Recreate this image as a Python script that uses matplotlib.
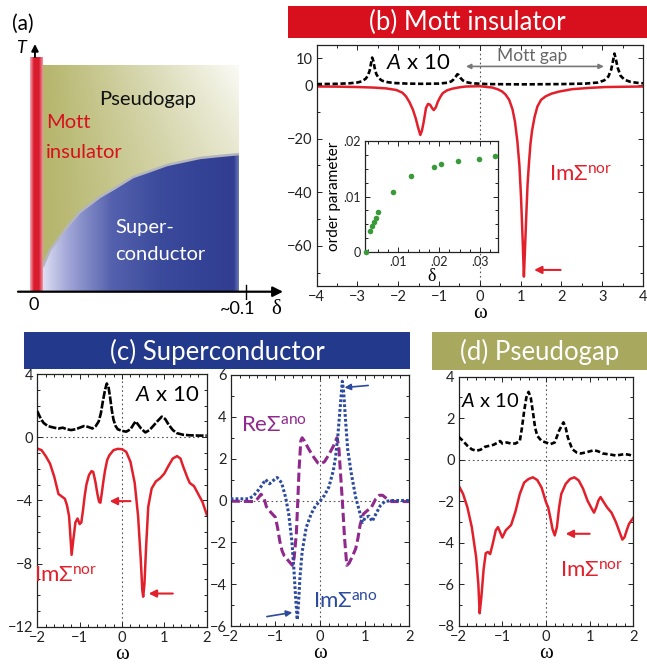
import numpy as np
import matplotlib
matplotlib.use('Agg')
import matplotlib.pyplot as plt
from matplotlib.patches import Rectangle, Polygon
from matplotlib.ticker import MultipleLocator, FixedLocator

plt.rcParams['font.family'] = ['Lato', 'DejaVu Sans']
plt.rcParams['mathtext.fontset'] = 'custom'
plt.rcParams['mathtext.rm'] = 'Lato'
plt.rcParams['mathtext.it'] = 'Lato:italic'
plt.rcParams['mathtext.bf'] = 'Lato:bold'

# ---------------- data ----------------
# (a) schematic phase boundary (delta, T in units of top of diagram)
pd_delta = [0.0032, 0.0067, 0.0148, 0.021, 0.0305, 0.0377, 0.0463, 0.0544, 0.0625, 0.0782, 0.0877, 0.0968]
pd_T = [0.109, 0.184, 0.285, 0.352, 0.418, 0.457, 0.506, 0.532, 0.559, 0.590, 0.599, 0.607]

# (b) Mott insulator
b_A_omega = [-4.0, -3.5, -3.2, -3.0, -2.9, -2.8, -2.75, -2.7, -2.67, -2.64, -2.61, -2.58, -2.54, -2.48, -2.4,
             -2.3, -2.1, -1.8, -1.4, -1.0, -0.8, -0.7, -0.64, -0.58, -0.55, -0.52, -0.48, -0.42, -0.35, -0.2,
             0.2, 1.0, 2.0, 2.6, 2.9, 3.05, 3.15, 3.22, 3.27, 3.30, 3.33, 3.38, 3.45, 3.55, 3.7, 3.9, 4.0]
b_A = [0.4, 0.5, 0.7, 1.0, 1.4, 2.4, 3.4, 5.5, 8.0, 10.3, 9.0, 6.5, 4.2, 2.6, 1.7,
       1.2, 0.8, 0.6, 0.5, 0.6, 0.9, 1.4, 2.2, 3.4, 4.1, 3.8, 2.8, 1.8, 1.2, 0.7,
       0.4, 0.3, 0.4, 0.6, 1.0, 1.8, 3.2, 5.8, 9.5, 11.8, 10.0, 6.5, 3.5, 2.0, 1.2, 0.8, 0.7]
b_Im_omega = [-4.0, -3.5, -3.0, -2.6, -2.3, -2.05, -1.9, -1.81, -1.72, -1.64, -1.57, -1.52, -1.46, -1.42, -1.38,
              -1.32, -1.27, -1.22, -1.17, -1.13, -1.08, -1.03, -0.97, -0.91, -0.8, -0.67, -0.5, -0.34, 0.0, 0.31,
              0.45, 0.55, 0.63, 0.72, 0.8, 0.86, 0.92, 0.97, 1.01, 1.05, 1.08, 1.11, 1.14, 1.17, 1.2,
              1.24, 1.28, 1.34, 1.41, 1.5, 1.61, 1.75, 1.94, 2.26, 2.7, 3.08, 3.5, 4.0]
b_Im = [-0.5, -0.55, -0.7, -0.9, -1.2, -1.8, -2.8, -4.2, -6.5, -9.2, -12.5, -15.5, -18.6, -17.0, -14.0,
        -8.5, -7.0, -7.3, -8.6, -9.3, -8.3, -6.2, -4.4, -3.0, -1.9, -1.3, -0.8, -0.5, -0.4, -0.9,
        -1.6, -2.4, -3.5, -5.5, -9.0, -13.5, -21, -30, -42, -58, -71.5, -60, -48, -37, -30,
        -22, -17, -12, -8, -5.5, -4.2, -3.2, -2.4, -1.5, -1.0, -0.7, -0.6, -0.5]

# (b) inset: order parameter vs doping
inset_delta = [0.0021, 0.0031, 0.0036, 0.0041, 0.0046, 0.0051, 0.0088, 0.0131, 0.0187, 0.0205, 0.0247, 0.0298, 0.0337]
inset_order = [0.0, 0.0038, 0.0047, 0.0054, 0.0062, 0.0072, 0.0108, 0.0137, 0.0153, 0.0158, 0.0164, 0.0168, 0.0173]

# (c) Superconductor, left
c_A_omega = [-2.0, -1.95, -1.9, -1.85, -1.75, -1.6, -1.5, -1.4, -1.3, -1.2, -1.1, -1.0, -0.9, -0.8, -0.7,
             -0.62, -0.55, -0.5, -0.45, -0.4, -0.36, -0.32, -0.28, -0.24, -0.2, -0.15, -0.1, 0.0, 0.1, 0.2,
             0.27, 0.32, 0.38, 0.45, 0.55, 0.65, 0.75, 0.85, 0.94, 1.02, 1.1, 1.2, 1.3, 1.45, 1.6, 1.8, 2.0]
c_A = [1.65, 1.35, 1.1, 0.9, 0.7, 0.6, 0.55, 0.6, 0.5, 0.45, 0.5, 0.6, 0.7, 0.65, 0.55,
       0.7, 1.0, 1.5, 2.3, 3.0, 3.4, 3.2, 2.5, 1.7, 1.1, 0.7, 0.5, 0.4, 0.35, 0.5,
       0.8, 1.0, 0.8, 0.55, 0.3, 0.45, 0.75, 1.05, 1.3, 1.15, 0.8, 0.45, 0.25, 0.15, 0.12, 0.1, 0.1]
c_Im_omega = [-2.0, -1.9, -1.8, -1.7, -1.6, -1.5, -1.45, -1.4, -1.35, -1.3, -1.25, -1.22, -1.19, -1.15, -1.1,
              -1.05, -1.0, -0.96, -0.92, -0.88, -0.84, -0.78, -0.72, -0.68, -0.63, -0.58, -0.54, -0.51, -0.48, -0.44,
              -0.4, -0.35, -0.3, -0.2, -0.1, 0.0, 0.1, 0.2, 0.3, 0.38, 0.44, 0.48, 0.5, 0.53, 0.57,
              0.62, 0.7, 0.8, 0.9, 1.0, 1.1, 1.2, 1.3, 1.38, 1.45, 1.55, 1.6, 1.7, 1.8, 1.9, 2.0]
c_Im = [-0.72, -0.82, -1.2, -1.67, -2.5, -3.6, -3.7, -3.8, -3.9, -4.3, -5.0, -6.2, -7.45, -6.5, -5.4,
        -5.15, -5.5, -5.4, -4.6, -3.7, -3.0, -2.4, -2.15, -2.2, -2.8, -3.6, -4.1, -4.15, -3.6, -2.8,
        -2.1, -1.45, -1.15, -0.82, -0.74, -0.76, -0.93, -1.56, -2.9, -5.0, -7.6, -9.7, -10.1, -9.3, -6.9,
        -4.4, -3.25, -2.8, -2.6, -2.3, -1.8, -1.35, -1.2, -1.35, -1.9, -2.6, -2.9, -3.1, -3.6, -4.1, -4.9]

# (c) Superconductor, right: anomalous self-energy
c_ImAno_omega = [-2.0, -1.6, -1.5, -1.38, -1.3, -1.22, -1.13, -1.05, -0.96, -0.86, -0.77, -0.7, -0.63, -0.59, -0.55,
                 -0.51, -0.48, -0.45, -0.4, -0.31, -0.2, -0.1, 0.0, 0.1, 0.2, 0.3, 0.35, 0.4, 0.45, 0.5,
                 0.53, 0.57, 0.62, 0.7, 0.8, 0.9, 0.95, 1.02, 1.1, 1.17, 1.25, 1.35, 1.45, 1.6, 2.0]
c_ImAno = [0.08, 0.08, 0.2, 0.5, 0.73, 1.0, 0.8, 0.95, 1.1, 0.85, 0.15, -0.65, -1.95, -3.1, -4.5,
           -5.7, -4.9, -3.7, -2.45, -1.3, -0.65, -0.25, -0.03, 0.25, 0.65, 1.45, 2.1, 3.1, 4.4, 5.7,
           5.2, 3.9, 2.45, 1.3, 0.15, -0.65, -1.05, -0.8, -0.75, -1.0, -0.65, -0.25, -0.05, 0.0, 0.0]
c_ReAno_omega = [-2.0, -1.5, -1.4, -1.32, -1.25, -1.2, -1.1, -1.0, -0.95, -0.9, -0.85, -0.8, -0.7, -0.62, -0.58,
                 -0.53, -0.5, -0.47, -0.43, -0.4, -0.35, -0.25, -0.15, -0.05, 0.0, 0.1, 0.2, 0.3, 0.38, 0.42,
                 0.45, 0.5, 0.55, 0.6, 0.65, 0.72, 0.8, 0.85, 0.9, 0.97, 1.05, 1.15, 1.25, 1.33, 1.4,
                 1.5, 1.6, 2.0]
c_ReAno = [-0.03, -0.05, 0.08, 0.3, 0.08, -0.3, -0.57, -0.8, -1.3, -1.95, -2.4, -2.65, -2.9, -3.1, -2.75,
           -1.6, -0.15, 1.45, 2.85, 3.0, 2.85, 2.45, 2.1, 1.8, 1.75, 1.85, 2.2, 2.6, 3.0, 2.6,
           1.6, 0.0, -1.8, -3.1, -3.0, -2.7, -2.3, -1.8, -1.15, -0.65, -0.5, -0.33, 0.08, 0.25, 0.25,
           0.08, -0.05, -0.05]

# (d) Pseudogap
d_A_omega = [-2.0, -1.9, -1.8, -1.7, -1.6, -1.5, -1.4, -1.3, -1.2, -1.1, -1.05, -1.0, -0.9, -0.8, -0.7,
             -0.6, -0.55, -0.5, -0.45, -0.4, -0.35, -0.3, -0.25, -0.2, -0.1, 0.0, 0.1, 0.2, 0.3, 0.35,
             0.4, 0.45, 0.5, 0.6, 0.7, 0.8, 0.9, 1.0, 1.1, 1.2, 1.3, 1.5, 1.6, 1.8, 1.9, 2.0]
d_A = [1.1, 0.9, 0.67, 0.5, 0.43, 0.48, 0.62, 0.67, 0.72, 0.83, 0.9, 0.78, 0.83, 0.78, 0.78,
       0.9, 1.55, 2.35, 3.0, 3.27, 3.0, 2.3, 1.55, 1.15, 0.9, 0.83, 0.75, 0.83, 1.4, 1.6,
       1.8, 1.55, 1.07, 0.51, 0.35, 0.3, 0.35, 0.4, 0.46, 0.4, 0.3, 0.24, 0.2, 0.27, 0.24, 0.18]
d_Im_omega = [-2.0, -1.9, -1.8, -1.7, -1.6, -1.55, -1.52, -1.48, -1.43, -1.38, -1.33, -1.28, -1.22, -1.15, -1.1,
              -1.05, -1.0, -0.92, -0.8, -0.7, -0.6, -0.5, -0.4, -0.3, -0.2, -0.1, -0.05, 0.0, 0.05, 0.1,
              0.15, 0.2, 0.25, 0.3, 0.35, 0.45, 0.55, 0.65, 0.75, 0.85, 0.95, 1.05, 1.1, 1.15, 1.2,
              1.25, 1.3, 1.4, 1.5, 1.6, 1.7, 1.75, 1.8, 1.85, 1.9, 2.0]
d_Im = [-1.25, -1.65, -2.3, -3.25, -4.7, -6.0, -7.4, -6.6, -5.3, -4.5, -4.45, -4.55, -4.05, -3.4, -3.25,
        -3.5, -3.75, -3.4, -3.15, -2.5, -1.65, -1.1, -0.93, -0.85, -0.98, -1.35, -1.7, -2.05, -2.3, -2.8,
        -3.35, -3.65, -3.25, -2.3, -1.65, -1.17, -0.93, -0.85, -1.0, -1.4, -1.97, -2.37, -2.55, -2.3, -1.97,
        -1.8, -1.97, -2.3, -2.55, -3.0, -3.57, -3.85, -3.73, -3.4, -3.1, -2.8]

# ---------------- style ----------------
RED = '#e2202b'
BLUE = '#2c4a9e'
PURPLE = '#8f2a8c'
GREEN = '#3a9a3a'
BAR_B = '#d8101d'
BAR_C = '#22398c'
BAR_D = '#a8a85e'
SERIF = ['Liberation Serif', 'DejaVu Serif']
IMNOR = r'Im$\Sigma^{\mathrm{nor}}$'

W, H = 647, 665
fig = plt.figure(figsize=(W / 100, H / 100), dpi=100)


def box(l, t, r, b):
    return [l / W, 1 - b / H, (r - l) / W, (b - t) / H]


def ftext(px, py, s, **kw):
    fig.text(px / W, 1 - py / H, s, **kw)


def bar(l, t, r, b, color, label):
    fig.add_artist(Rectangle((l / W, 1 - b / H), (r - l) / W, (b - t) / H,
                             transform=fig.transFigure, color=color, lw=0))
    ftext((l + r) / 2, (t + b) / 2 + 1, label, color='white', fontsize=18.5,
          ha='center', va='center')


def style(ax, xmaj, xmin, ymaj, ymin, lsize=10.5):
    ax.xaxis.set_major_locator(FixedLocator(xmaj))
    ax.xaxis.set_minor_locator(MultipleLocator(xmin))
    ax.yaxis.set_major_locator(FixedLocator(ymaj))
    ax.yaxis.set_minor_locator(MultipleLocator(ymin))
    ax.tick_params(which='both', direction='in', top=True, right=True,
                   labelsize=lsize, colors='#222222', width=0.7)
    ax.tick_params(which='major', length=3.5, pad=3)
    ax.tick_params(which='minor', length=2)
    for s in ax.spines.values():
        s.set_linewidth(0.9)
        s.set_color('#222222')


def zero_lines(ax, horiz=True):
    ax.axvline(0, color='#555555', lw=0.8, ls=(0, (1.5, 2.5)), zorder=0)
    if horiz:
        ax.axhline(0, color='#555555', lw=0.8, ls=(0, (1.5, 2.5)), zorder=0)


def arrow(ax, x0, y0, x1, y1, color, lw=1.5, ms=11):
    ax.annotate('', xy=(x1, y1), xytext=(x0, y0),
                arrowprops=dict(arrowstyle='-|>', color=color, lw=lw,
                                mutation_scale=ms, shrinkA=0, shrinkB=0))


# ---------------- (a) phase diagram ----------------
d0, d1 = 36.0, 245.7        # pixel x of delta=0 and delta=0.1
T0, T1 = 291.7, 65.0        # pixel y of T=0 and T=1
L, R, Tp, Bp = 10, 290, 40, 300
axa = fig.add_axes(box(L, Tp, R, Bp))
axa.set_xlim((L - d0) / (d1 - d0) * 0.1, (R - d0) / (d1 - d0) * 0.1)
axa.set_ylim((T0 - Bp) / (T0 - T1), (T0 - Tp) / (T0 - T1))
axa.axis('off')

xl, xr = pd_delta[0], pd_delta[-1]
nx, ny = 300, 150
u = np.linspace(0, 1, nx)[None, :]
v = np.linspace(1, 0, ny)[:, None]
olive = np.array([0.71, 0.71, 0.42])
t = np.clip(0.55 * u + 0.40 * u * v ** 2, 0, 0.92)[..., None]
img_olive = olive * (1 - t) + np.ones(3) * t
im1 = axa.imshow(img_olive, extent=(xl, xr, 0, 1), origin='upper', aspect='auto',
                 interpolation='bilinear', zorder=1)
clip1 = Polygon(list(zip(pd_delta, pd_T)) + [(xr, 1.0), (xl, 1.0)], closed=True,
                transform=axa.transData, fc='none', ec='none')
axa.add_patch(clip1)
im1.set_clip_path(clip1)

stops = [0.0, 0.12, 0.35, 0.6, 0.97, 1.0]
cols = np.array([[0.87, 0.87, 0.95], [0.64, 0.66, 0.85], [0.33, 0.38, 0.68],
                 [0.23, 0.29, 0.61], [0.19, 0.24, 0.57], [0.45, 0.5, 0.74]])
uu = np.linspace(0, 1, nx)
blue_row = np.stack([np.interp(uu, stops, cols[:, k]) for k in range(3)], axis=-1)
img_blue = np.repeat(blue_row[None, :, :], 10, axis=0)
im2 = axa.imshow(img_blue, extent=(xl, xr, 0, 0.65), origin='upper', aspect='auto',
                 interpolation='bilinear', zorder=1)
clip2 = Polygon(list(zip(pd_delta, pd_T)) + [(xr, 0.0), (xl, 0.0)], closed=True,
                transform=axa.transData, fc='none', ec='none')
axa.add_patch(clip2)
im2.set_clip_path(clip2)
axa.plot(pd_delta, pd_T, color='#b4b6bd', lw=1.8, zorder=2, solid_capstyle='butt',
         solid_joinstyle='round')

rstops = [0.0, 0.3, 0.7, 1.0]
rcols = np.array([[0.96, 0.66, 0.72], [0.85, 0.11, 0.18], [0.85, 0.11, 0.18], [0.94, 0.58, 0.64]])
ru = np.linspace(0, 1, 40)
red_row = np.stack([np.interp(ru, rstops, rcols[:, k]) for k in range(3)], axis=-1)
axa.imshow(red_row[None, :, :], extent=((30 - d0) / (d1 - d0) * 0.1, xl, 0, (T0 - 56.7) / (T0 - T1)),
           origin='upper', aspect='auto', interpolation='bilinear', zorder=3)

xa0 = (18 - d0) / (d1 - d0) * 0.1
xa1 = (283 - d0) / (d1 - d0) * 0.1
axa.annotate('', xy=(xa1, 0), xytext=(xa0, 0),
             arrowprops=dict(arrowstyle='-|>', color='black', lw=1.6, mutation_scale=15,
                             shrinkA=0, shrinkB=0), zorder=4)
axa.plot([0.1, 0.1], [-0.03, 0.03], color='black', lw=1.0, zorder=4)
axa.annotate('', xy=(-0.0005, (T0 - 44) / (T0 - T1)), xytext=(-0.0005, (T0 - 57) / (T0 - T1)),
             arrowprops=dict(arrowstyle='-|>', color='black', lw=1.4, mutation_scale=10,
                             shrinkA=0, shrinkB=0), zorder=4)

ftext(23, 24, '(a)', fontsize=15, ha='center', va='center')
ftext(21, 48, 'T', fontsize=13, ha='center', va='center', style='italic')
ftext(34, 305, '0', fontsize=13, ha='center', va='center')
ftext(238, 309, '~0.1', fontsize=13, ha='center', va='center')
ftext(276, 310, 'δ', fontsize=15, ha='center', va='center', family=SERIF)
ftext(148, 100, 'Pseudogap', fontsize=14.5, ha='center', va='center', color='#111111')
ftext(46, 123, 'Mott', fontsize=14.5, ha='left', va='center', color='#d8101d')
ftext(46, 152, 'insulator', fontsize=14.5, ha='left', va='center', color='#d8101d')
ftext(115, 227, 'Super-', fontsize=14.5, ha='left', va='center', color='white')
ftext(115, 254, 'conductor', fontsize=14.5, ha='left', va='center', color='white')

# ---------------- (b) Mott insulator ----------------
bar(288, 5.7, 647, 38, BAR_B, '(b) Mott insulator')
axb = fig.add_axes(box(316.7, 45, 643.0, 286))
zero_lines(axb, horiz=False)
axb.plot(b_A_omega, b_A, color='black', lw=1.9, ls=(0, (2.0, 1.0)), zorder=3)
axb.plot(b_Im_omega, b_Im, color=RED, lw=1.8, zorder=2)
axb.set_xlim(-4, 4)
axb.set_ylim(-75, 15)
style(axb, [-4, -3, -2, -1, 0, 1, 2, 3, 4], 0.5, [10, 0, -20, -40, -60], 10)
axb.set_xlabel('ω', family=SERIF, fontsize=15, labelpad=0)
axb.text(-1.52, 8.4, r'$\mathit{A}$ x 10', fontsize=16, ha='center', va='center')
axb.text(1.27, 10.8, 'Mott gap', fontsize=12.5, color='#666666', ha='center', va='center')
axb.annotate('', xy=(3.04, 7.0), xytext=(-0.34, 7.0),
             arrowprops=dict(arrowstyle='<|-|>', color='#777777', lw=1.2, mutation_scale=7,
                             shrinkA=0, shrinkB=0))
axb.text(2.48, -33.3, IMNOR, fontsize=16, color=RED, ha='center', va='center')
arrow(axb, 1.98, -69, 1.33, -69, RED)

axin = fig.add_axes(box(365, 140.7, 498.3, 252.3))
axin.scatter(inset_delta, inset_order, s=16, color=GREEN, clip_on=False, zorder=3, lw=0)
axin.set_xlim(0.00185, 0.0345)
axin.set_ylim(0, 0.02)
style(axin, [0.01, 0.02, 0.03], 0.0025, [0, 0.01, 0.02], 0.0025, lsize=9)
axin.set_xticklabels(['.01', '.02', '.03'])
axin.set_yticklabels(['0', '.01', '.02'])
axin.set_ylabel('order parameter', fontsize=11, labelpad=2)
axin.set_xlabel('δ', family=SERIF, fontsize=13, labelpad=0)

# ---------------- (c) Superconductor ----------------
bar(24, 332, 410, 369, BAR_C, '(c) Superconductor')
axc1 = fig.add_axes(box(37.3, 374, 206.7, 626.7))
zero_lines(axc1)
axc1.plot(c_A_omega, c_A, color='black', lw=1.9, ls=(0, (3.0, 0.7)), zorder=3)
axc1.plot(c_Im_omega, c_Im, color=RED, lw=1.8, zorder=2)
axc1.set_xlim(-2, 2)
axc1.set_ylim(-12, 4)
style(axc1, [-2, -1, 0, 1, 2], 0.2, [4, 0, -4, -8, -12], 1)
axc1.set_xlabel('ω', family=SERIF, fontsize=15, labelpad=0)
axc1.text(1.07, 2.7, r'$\mathit{A}$ x 10', fontsize=16, ha='center', va='center')
axc1.text(-1.33, -8.8, IMNOR, fontsize=16, color=RED, ha='center', va='center')
arrow(axc1, 0.2, -4.05, -0.29, -4.05, RED)
arrow(axc1, 1.2, -9.9, 0.63, -9.9, RED)

axc2 = fig.add_axes(box(230.7, 375, 409.3, 626))
zero_lines(axc2)
axc2.plot(c_ReAno_omega, c_ReAno, color=PURPLE, lw=2.2, ls=(0, (3.0, 1.3)), zorder=2)
axc2.plot(c_ImAno_omega, c_ImAno, color=BLUE, lw=2.2, ls=(0, (0.9, 0.7)), zorder=3)
axc2.set_xlim(-2, 2)
axc2.set_ylim(-6, 6)
style(axc2, [-2, -1, 0, 1, 2], 0.2, [6, 4, 2, 0, -2, -4, -6], 1)
axc2.set_xlabel('ω', family=SERIF, fontsize=15, labelpad=0)
axc2.text(-1.03, 3.6, r'Re$\Sigma^{\mathrm{ano}}$', fontsize=16, color=PURPLE, ha='center', va='center')
axc2.text(0.56, -4.85, r'Im$\Sigma^{\mathrm{ano}}$', fontsize=16, color=BLUE, ha='center', va='center')
arrow(axc2, 1.08, 5.5, 0.55, 5.4, BLUE, lw=1.2, ms=9)
arrow(axc2, -1.19, -5.55, -0.62, -5.35, BLUE, lw=1.2, ms=9)

# ---------------- (d) Pseudogap ----------------
bar(432, 332, 647, 370, BAR_D, '(d) Pseudogap')
axd = fig.add_axes(box(458.7, 376.7, 633.3, 625.7))
zero_lines(axd)
axd.plot(d_A_omega, d_A, color='black', lw=1.9, ls=(0, (2.0, 1.0)), zorder=3)
axd.plot(d_Im_omega, d_Im, color=RED, lw=1.8, zorder=2)
axd.set_xlim(-2, 2)
axd.set_ylim(-8, 4)
style(axd, [-2, -1, 0, 1, 2], 0.2, [4, 2, 0, -2, -4, -6, -8], 1)
axd.set_xlabel('ω', family=SERIF, fontsize=15, labelpad=0)
axd.text(-1.27, 2.85, r'$\mathit{A}$ x 10', fontsize=14.5, ha='center', va='center')
axd.text(1.05, -5.35, IMNOR, fontsize=16, color=RED, ha='center', va='center')
arrow(axd, 1.0, -3.57, 0.45, -3.57, RED)

fig.savefig('out.png', dpi=100)
